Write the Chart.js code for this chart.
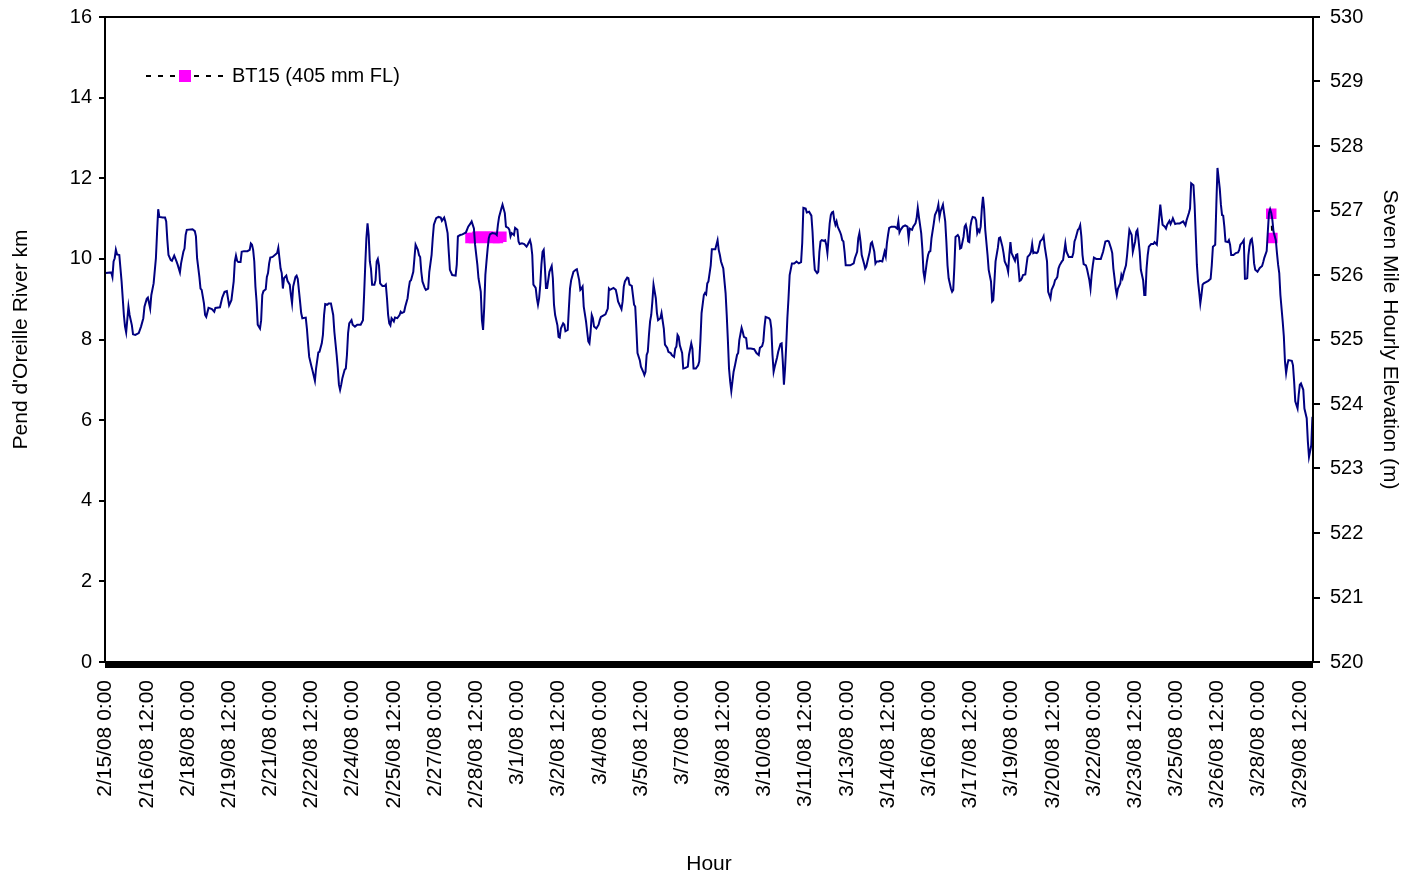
<!DOCTYPE html>
<html>
<head>
<meta charset="utf-8">
<title>Seven Mile elevation and BT15 location</title>
<script src="https://cdn.jsdelivr.net/npm/chart.js@4.4.1/dist/chart.umd.min.js"></script>
<style>
  body { margin: 0; background: #fff; }
  canvas { display: block; }
</style>
</head>
<body>
<canvas id="myChart" width="1403" height="877"></canvas>
<script>
'use strict';

// Hours since 2/15/08 0:00
let elevHours = [
  0, 5, 6, 7, 8, 9, 10, 12, 14, 16, 17, 18, 20, 21, 23, 24, 26, 29, 31, 33, 34, 36, 37, 39, 40, 42, 44, 45, 46, 47, 50, 52, 53, 54, 55, 57, 58, 60, 62, 63, 65, 66, 68, 69, 70, 71, 76, 78, 79, 80, 82, 83, 84, 86, 87, 88, 90, 93, 95, 96, 100, 102, 104, 106, 108, 110, 112, 113, 114, 115, 116,
  118, 119, 121, 124, 126, 127, 128, 129, 130, 131, 132, 133, 135, 136, 137, 138, 140, 141, 142, 143, 144, 146, 148, 150, 151, 152, 153, 154, 155, 156, 158, 159, 161, 162, 163, 164, 166, 167, 168, 170, 171, 172, 175,
  176, 177, 178, 180, 181, 183, 184, 186, 187, 189, 190, 191, 192, 194, 195, 197, 199, 200, 202, 203, 204, 205, 206, 207, 209, 210, 211, 212, 213, 215, 216, 218, 220, 223, 225, 226, 227, 228, 229, 230, 231, 232, 233, 235, 236,
  237, 238, 239, 240, 242, 244, 245, 246, 247, 248, 249, 250, 252, 253, 255, 257, 258, 259, 261, 262, 264, 265, 266, 267, 269, 270, 271, 273, 274, 275, 276, 277, 279, 280, 282, 283, 285, 286, 287, 289, 291, 293, 294, 296, 297,
  299, 300, 301, 303, 306, 307, 308, 310, 312, 314, 315, 317, 319, 320, 322, 323, 325, 326, 328, 329, 330, 331, 332, 333, 334, 335, 336, 338, 341, 342, 343, 344, 346, 347, 349, 350, 352, 353, 354,
  355, 357, 358, 360, 361, 362, 364, 366, 368, 369, 371, 372, 373, 374, 376, 377, 378, 379, 380, 381, 382, 383, 384, 385, 386, 388, 390, 391, 392, 393, 395, 396, 397, 398, 400, 401, 402, 404, 405, 406, 407, 409, 411, 412,
  414, 415, 416, 417, 418, 420, 421, 422, 423, 424, 425, 426, 427, 429, 431, 432, 433, 435, 437, 439, 440, 441, 444, 446, 447, 448, 450, 451, 452, 453, 454, 456, 457, 458, 460, 462, 463, 464, 465, 467, 468, 470, 471,
  472, 473, 474, 475, 476, 477, 478, 479, 481, 482, 483, 485, 486, 488, 489, 491, 492, 494, 495, 497, 498, 499, 500, 501, 502, 504, 505, 507, 509, 510, 512, 513, 514, 516, 518, 519, 520, 521, 523, 524, 525, 526, 527, 529,
  530, 533, 535, 536, 537, 538, 540, 542, 543, 544, 545, 546, 547, 548, 549, 550, 552, 553, 554, 556, 557, 558, 560, 561, 564, 567, 569, 571, 572, 574, 575, 576, 577, 580, 581, 582, 583, 584, 585, 587, 588, 590,
  591, 592, 593, 594, 595, 596, 597, 598, 600, 602, 604, 606, 608, 609, 610, 612, 613, 615, 617, 618, 619, 620, 622, 623, 624, 625, 626, 628, 629, 630, 631, 632, 633, 634, 635, 636, 637, 638, 639, 640, 642, 643, 644, 645,
  646, 647, 651, 654, 655, 657, 658, 659, 660, 661, 663, 664, 665, 666, 668, 669, 670, 672, 673, 674, 676, 677, 679, 681, 682, 683, 684, 685, 687, 690, 692, 693, 694, 695, 697, 699, 701, 702, 703, 705, 706, 708,
  709, 710, 711, 713, 714, 715, 716, 718, 719, 720, 721, 722, 724, 725, 727, 728, 729, 730, 732, 734, 735, 736, 737, 739, 740, 741, 742, 743, 745, 746, 747, 748, 750, 751, 752, 753, 754, 755, 756, 757, 758, 760, 761,
  762, 763, 764, 765, 766, 767, 768, 769, 771, 772, 774, 775, 776, 777, 778, 780, 781, 782, 784, 785, 786, 788, 789, 790, 791, 792, 794, 795, 796, 797, 799, 800, 801, 802, 804, 805, 806, 808, 809, 810, 811, 812, 814,
  815, 817, 819, 820, 821, 823, 824, 826,
  827, 829, 830, 831, 832, 833, 834, 836, 837, 838, 839, 840, 842, 844, 845, 846, 847, 848, 850, 851, 852, 853, 854, 855, 857, 858, 860, 861, 862, 863, 864, 866, 868, 870, 872, 873, 874, 876, 877, 879, 880, 881, 882,
  883, 884, 885, 887, 888, 889, 890, 892, 893, 894, 895, 897, 898, 900, 901, 902, 903, 904, 905, 907, 908, 909, 910, 911, 912, 914, 916, 917, 919, 920, 921, 922, 923, 924, 926, 927, 928, 930, 931, 932, 933, 935, 937,
  939, 942, 944,
  945, 947, 948, 949, 951, 952, 953, 954, 955, 956, 957, 958, 959, 960, 962, 964, 966, 967, 968, 970, 971, 972, 974, 975, 976, 977, 978, 979, 981, 982, 983, 984, 986, 988, 990, 991, 992, 994, 995, 996, 997, 998, 999,
  1000, 1001, 1002, 1003, 1004, 1005, 1007, 1008, 1009, 1011, 1012, 1013, 1015, 1016, 1017, 1018, 1019, 1020, 1021, 1023, 1024, 1025, 1026, 1027, 1029, 1030, 1031, 1032, 1033, 1034, 1037, 1038, 1039, 1040, 1042,
  1043, 1044, 1045, 1047, 1048, 1050, 1051, 1052, 1054, 1055
];

// Seven Mile hourly elevation (m)
let elevMeters = [
  526.03, 526.04, 525.97, 526.21, 526.26, 526.39, 526.32, 526.31, 525.90, 525.38, 525.20, 525.11, 525.51, 525.38, 525.22, 525.08, 525.07, 525.10, 525.20, 525.33, 525.51, 525.63, 525.65, 525.48, 525.69, 525.87, 526.26, 526.65, 527.02, 526.90, 526.89, 526.89, 526.83, 526.54, 526.31, 526.23, 526.22, 526.30, 526.21, 526.16, 526.04, 526.18, 526.36, 526.41, 526.62, 526.70, 526.71, 526.68, 526.60, 526.26, 525.97, 525.79, 525.77, 525.56, 525.38, 525.35, 525.49, 525.47, 525.43, 525.49, 525.50, 525.65, 525.74, 525.75, 525.53, 525.61, 525.90, 526.21, 526.30, 526.22, 526.20,
  526.20, 526.36, 526.37, 526.37, 526.39, 526.49, 526.47, 526.39, 526.21, 525.82, 525.59, 525.23, 525.17, 525.30, 525.69, 525.75, 525.78, 525.97, 526.03, 526.18, 526.27, 526.28, 526.31, 526.34, 526.42, 526.26, 526.10, 526.03, 525.79, 525.95, 525.99, 525.91, 525.85, 525.69, 525.56, 525.82, 525.97, 525.99, 525.94, 525.59, 525.41, 525.33, 525.34,
  525.17, 524.94, 524.73, 524.58, 524.51, 524.36, 524.55, 524.80, 524.81, 524.94, 525.07, 525.38, 525.55, 525.54, 525.56, 525.56, 525.38, 525.12, 524.76, 524.55, 524.30, 524.22, 524.30, 524.40, 524.53, 524.55, 524.76, 525.10, 525.25, 525.30, 525.23, 525.20, 525.23, 525.23, 525.30, 525.69, 526.15, 526.57, 526.80, 526.62, 526.21, 526.10, 525.85, 525.85, 525.92,
  526.21, 526.25, 526.15, 525.87, 525.83, 525.83, 525.85, 525.64, 525.38, 525.25, 525.22, 525.33, 525.28, 525.34, 525.33, 525.38, 525.43, 525.41, 525.43, 525.51, 525.64, 525.79, 525.90, 525.92, 526.05, 526.26, 526.47, 526.39, 526.31, 526.28, 526.05, 525.90, 525.80, 525.77, 525.79, 526.05, 526.31, 526.57, 526.78, 526.88, 526.90, 526.89, 526.84, 526.89, 526.83,
  526.65, 526.36, 526.08, 526.00, 525.99, 526.16, 526.60, 526.62, 526.63, 526.65, 526.66, 526.75, 526.80, 526.83, 526.72, 526.47, 526.16, 525.95, 525.74, 525.30, 525.15, 525.50, 526.00, 526.21, 526.41, 526.57, 526.63, 526.65, 526.64, 526.62, 526.78, 526.90, 527.03, 527.09, 526.96, 526.75, 526.73, 526.70, 526.60,
  526.65, 526.62, 526.73, 526.70, 526.52, 526.48, 526.49, 526.48, 526.44, 526.47, 526.54, 526.47, 526.31, 525.85, 525.80, 525.64, 525.54, 525.64, 525.85, 526.16, 526.36, 526.39, 526.13, 525.80, 525.80, 526.05, 526.14, 525.95, 525.54, 525.38, 525.22, 525.04, 525.03, 525.17, 525.25, 525.23, 525.13, 525.15, 525.48, 525.79, 525.92, 526.05, 526.08, 526.09,
  525.92, 525.77, 525.79, 525.82, 525.51, 525.28, 525.12, 524.97, 524.94, 525.12, 525.38, 525.33, 525.20, 525.17, 525.23, 525.30, 525.35, 525.37, 525.39, 525.48, 525.79, 525.77, 525.80, 525.77, 525.69, 525.59, 525.51, 525.47, 525.59, 525.82, 525.90, 525.96, 525.95, 525.85, 525.83, 525.54, 525.51, 525.17, 524.79, 524.68, 524.58, 524.50, 524.45,
  524.50, 524.76, 524.81, 525.07, 525.28, 525.38, 525.59, 525.85, 525.64, 525.41, 525.30, 525.33, 525.41, 525.17, 524.92, 524.87, 524.81, 524.79, 524.76, 524.73, 524.86, 524.89, 525.07, 525.04, 524.91, 524.79, 524.55, 524.56, 524.58, 524.76, 524.94, 524.86, 524.55, 524.55, 524.60, 524.66, 524.99, 525.41, 525.69, 525.72, 525.70, 525.87, 525.90, 526.15,
  526.40, 526.40, 526.54, 526.39, 526.31, 526.21, 526.10, 525.72, 525.38, 524.99, 524.55, 524.35, 524.20, 524.35, 524.50, 524.58, 524.76, 524.79, 524.99, 525.18, 525.12, 525.04, 525.02, 524.86, 524.86, 524.85, 524.79, 524.76, 524.87, 524.90, 524.97, 525.20, 525.35, 525.33, 525.30, 525.17, 524.76, 524.50, 524.58, 524.72, 524.81, 524.93,
  524.94, 524.66, 524.30, 524.55, 524.91, 525.33, 525.64, 526.00, 526.18, 526.18, 526.21, 526.18, 526.20, 526.50, 527.04, 527.03, 526.97, 526.98, 526.92, 526.67, 526.31, 526.08, 526.03, 526.05, 526.36, 526.52, 526.54, 526.53, 526.54, 526.47, 526.34, 526.57, 526.80, 526.93, 526.97, 526.98, 526.85, 526.78, 526.83, 526.75, 526.67, 526.62, 526.54, 526.52,
  526.36, 526.15, 526.15, 526.18, 526.26, 526.36, 526.57, 526.65, 526.51, 526.31, 526.18, 526.10, 526.13, 526.21, 526.36, 526.49, 526.51, 526.36, 526.18, 526.21, 526.21, 526.22, 526.21, 526.36, 526.29, 526.49, 526.62, 526.73, 526.75, 526.75, 526.72, 526.83, 526.66, 526.70, 526.75, 526.77, 526.75, 526.57, 526.72, 526.70, 526.75, 526.80,
  526.88, 527.04, 526.90, 526.65, 526.41, 526.05, 525.94, 526.21, 526.31, 526.36, 526.37, 526.57, 526.80, 526.93, 527.01, 527.09, 526.90, 526.99, 527.09, 526.83, 526.52, 526.15, 525.95, 525.79, 525.74, 525.77, 526.13, 526.59, 526.62, 526.59, 526.41, 526.42, 526.59, 526.75, 526.78, 526.70, 526.52, 526.51, 526.75, 526.85, 526.90, 526.89, 526.85,
  526.65, 526.70, 526.67, 526.75, 527.03, 527.21, 527.03, 526.70, 526.31, 526.08, 525.90, 525.59, 525.61, 525.90, 526.21, 526.42, 526.57, 526.58, 526.44, 526.34, 526.21, 526.13, 526.05, 526.31, 526.51, 526.34, 526.26, 526.22, 526.31, 526.32, 525.91, 525.92, 525.95, 526.00, 526.01, 526.15, 526.28, 526.32, 526.36, 526.48, 526.34, 526.35, 526.34,
  526.36, 526.52, 526.56, 526.60, 526.44, 526.21, 525.74, 525.64,
  525.77, 525.85, 525.92, 525.94, 525.97, 526.10, 526.15, 526.21, 526.23, 526.36, 526.49, 526.36, 526.28, 526.28, 526.28, 526.34, 526.52, 526.57, 526.70, 526.72, 526.77, 526.60, 526.31, 526.17, 526.15, 526.09, 525.92, 525.79, 526.00, 526.15, 526.27, 526.25, 526.25, 526.25, 526.36, 526.44, 526.52, 526.53, 526.52, 526.41, 526.34, 526.10, 525.95,
  525.79, 525.69, 525.79, 525.87, 526.00, 525.95, 526.03, 526.15, 526.31, 526.51, 526.70, 526.62, 526.36, 526.52, 526.67, 526.70, 526.54, 526.36, 526.08, 525.92, 525.69, 525.69, 526.10, 526.31, 526.44, 526.48, 526.48, 526.51, 526.47, 526.67, 526.88, 527.09, 526.93, 526.78, 526.75, 526.72, 526.78, 526.84, 526.79, 526.83, 526.88, 526.79, 526.80,
  526.80, 526.83, 526.77,
  526.85, 526.96, 527.03, 527.42, 527.39, 527.09, 526.62, 526.16, 525.90, 525.74, 525.56, 525.69, 525.85, 525.87, 525.89, 525.91, 525.94, 526.15, 526.44, 526.47, 527.09, 527.66, 527.34, 527.09, 526.93, 526.92, 526.75, 526.52, 526.51, 526.54, 526.47, 526.31, 526.31, 526.34, 526.35, 526.39, 526.47, 526.51, 526.54, 525.94, 525.94, 525.95, 526.30,
  526.45, 526.54, 526.56, 526.44, 526.18, 526.08, 526.05, 526.08, 526.11, 526.14, 526.20, 526.27, 526.37, 526.67, 526.96, 527.02, 526.96, 526.85, 526.67, 526.54, 526.34, 526.16, 526.03, 525.69, 525.28, 525.05, 524.66, 524.48, 524.60, 524.68, 524.67, 524.60, 524.35, 524.04, 523.93,
  524.14, 524.30, 524.32, 524.22, 523.93, 523.78, 523.42, 523.18, 523.36, 523.80
];

// BT15 relocations: hour and river km (null breaks the line)
let fishHours = [319, 322, 325, 328, 331, 334, 337, 340, 343, 346, 700, 1019, 1020];
let fishKm = [10.52, 10.52, 10.55, 10.55, 10.52, 10.55, 10.55, 10.52, 10.52, 10.55, null, 11.12, 10.52];

// Tick labels, one every 36 hours
let hourLabels = [
  '2/15/08 0:00', '2/16/08 12:00', '2/18/08 0:00', '2/19/08 12:00', '2/21/08 0:00', '2/22/08 12:00',
  '2/24/08 0:00', '2/25/08 12:00', '2/27/08 0:00', '2/28/08 12:00', '3/1/08 0:00', '3/2/08 12:00',
  '3/4/08 0:00', '3/5/08 12:00', '3/7/08 0:00', '3/8/08 12:00', '3/10/08 0:00', '3/11/08 12:00',
  '3/13/08 0:00', '3/14/08 12:00', '3/16/08 0:00', '3/17/08 12:00', '3/19/08 0:00', '3/20/08 12:00',
  '3/22/08 0:00', '3/23/08 12:00', '3/25/08 0:00', '3/26/08 12:00', '3/28/08 0:00', '3/29/08 12:00'
];
let labelStep = 36;
let lastHour = 1055;

let fontFamily = '"Liberation Sans", Arial, sans-serif';
let fishDash = [5, 7];

let elevPoints = elevHours.map((h, i) => ({ x: h, y: elevMeters[i] }));
let fishPoints = fishHours.map((h, i) => ({ x: h, y: fishKm[i] }));

// Keep the y axes from pushing the plot down for their end labels
function fixYAxis(width) {
  return scale => {
    scale.width = width;
    scale.paddingTop = 0;
    scale.paddingBottom = 0;
  };
}

// Black frame round the plot area
const plotFrame = {
  id: 'plotFrame',
  afterDraw(chart) {
    let { ctx, chartArea } = chart;
    ctx.save();
    ctx.strokeStyle = '#000';
    ctx.lineWidth = 2;
    ctx.strokeRect(chartArea.left, chartArea.top, chartArea.width, chartArea.height);
    ctx.restore();
  }
};

// Legend sitting inside the plot: dotted line with the magenta marker
const fishLegend = {
  id: 'fishLegend',
  afterDraw(chart) {
    let { ctx, chartArea } = chart;
    let ds = chart.data.datasets[1];
    let x = chartArea.left + 41;
    let y = chartArea.top + 59;
    ctx.save();
    ctx.strokeStyle = '#000';
    ctx.lineWidth = 2;
    ctx.setLineDash(fishDash);
    ctx.beginPath();
    ctx.moveTo(x, y);
    ctx.lineTo(x + 77, y);
    ctx.stroke();
    ctx.setLineDash([]);
    ctx.fillStyle = ds.pointBackgroundColor;
    ctx.fillRect(x + 33, y - 6, 12, 12);
    ctx.fillStyle = '#000';
    ctx.font = '20px ' + fontFamily;
    ctx.textBaseline = 'middle';
    ctx.fillText(ds.label, x + 86, y);
    ctx.restore();
  }
};

let ctx = document.getElementById('myChart').getContext('2d');
let myChart = new Chart(ctx, {
  type: 'line',
  data: {
    datasets: [
      {
        label: 'Seven Mile Hourly Elevation',
        data: elevPoints,
        yAxisID: 'y1',
        borderColor: '#000080',
        borderWidth: 2,
        pointRadius: 0,
        tension: 0
      },
      {
        label: 'BT15 (405 mm FL)',
        data: fishPoints,
        yAxisID: 'y',
        borderColor: '#000',
        borderWidth: 2,
        borderDash: fishDash,
        pointStyle: 'rect',
        pointRadius: 6,
        pointBackgroundColor: '#FF00FF',
        pointBorderColor: '#FF00FF',
        spanGaps: false
      }
    ]
  },
  options: {
    responsive: false,
    animation: false,
    layout: { padding: { top: 17, left: 0, right: 0, bottom: 0 } },
    plugins: {
      legend: { display: false },
      tooltip: { enabled: false }
    },
    scales: {
      x: {
        type: 'linear',
        min: -0.5,
        max: lastHour + 0.5,
        afterBuildTicks: axis => {
          let ticks = [];
          for (let h = 0; h <= lastHour; h++) {
            ticks.push({ value: h });
          }
          axis.ticks = ticks;
        },
        afterFit: scale => { scale.height = 215; },
        ticks: {
          autoSkip: false,
          minRotation: 90,
          maxRotation: 90,
          padding: 12,
          color: '#000',
          font: { family: fontFamily, size: 21 },
          callback: value => (value % labelStep === 0 ? hourLabels[value / labelStep] : '')
        },
        grid: { drawOnChartArea: false, color: '#000', tickLength: 6, lineWidth: 2 },
        border: { color: '#000', width: 2 },
        title: {
          display: true,
          text: 'Hour',
          color: '#000',
          font: { family: fontFamily, size: 21 },
          padding: { top: 0, bottom: 0 }
        }
      },
      y: {
        position: 'left',
        min: 0,
        max: 16,
        afterFit: fixYAxis(105),
        ticks: {
          stepSize: 2,
          padding: 7,
          color: '#000',
          font: { family: fontFamily, size: 20 }
        },
        grid: { drawOnChartArea: false, color: '#000', tickLength: 6, lineWidth: 2 },
        border: { color: '#000', width: 2 },
        title: {
          display: true,
          text: "Pend d'Oreille River km",
          color: '#000',
          font: { family: fontFamily, size: 21 },
          padding: { top: 9, bottom: 0 }
        }
      },
      y1: {
        position: 'right',
        min: 520,
        max: 530,
        afterFit: fixYAxis(90),
        ticks: {
          stepSize: 1,
          padding: 10,
          color: '#000',
          font: { family: fontFamily, size: 20 }
        },
        grid: { drawOnChartArea: false, color: '#000', tickLength: 7, lineWidth: 2 },
        border: { color: '#000', width: 2 },
        title: {
          display: true,
          text: 'Seven Mile Hourly Elevation (m)',
          color: '#000',
          font: { family: fontFamily, size: 21 },
          padding: { top: 1, bottom: 0 }
        }
      }
    }
  },
  plugins: [plotFrame, fishLegend]
});
</script>
</body>
</html>
